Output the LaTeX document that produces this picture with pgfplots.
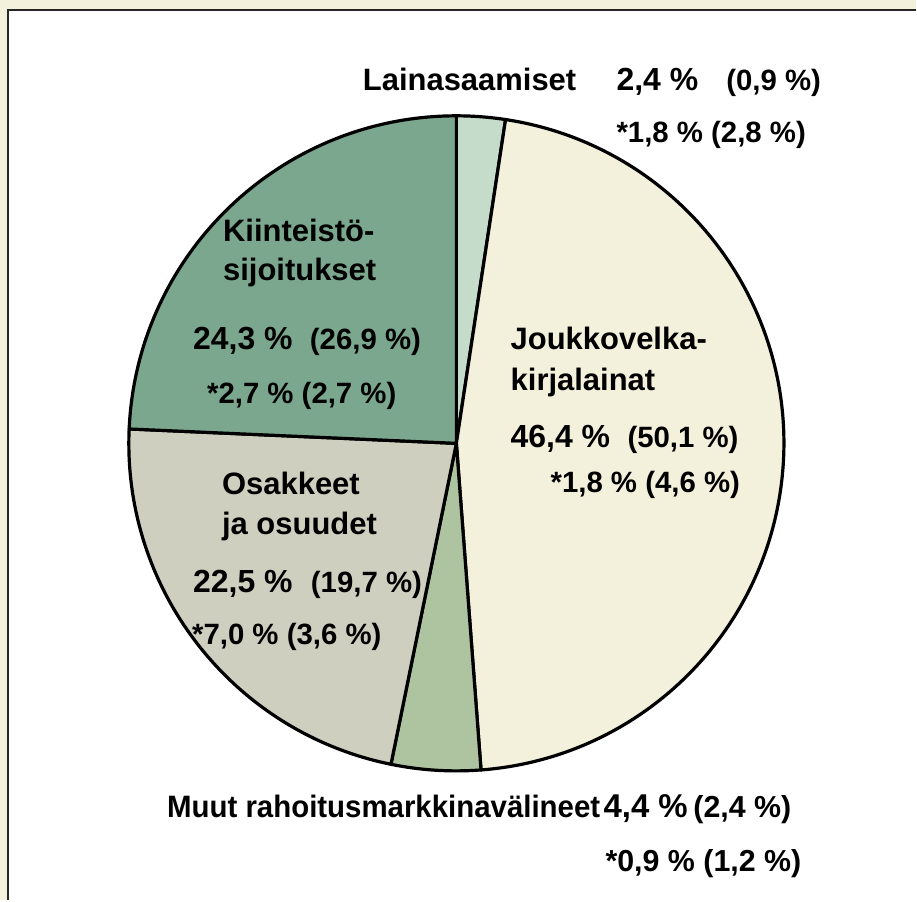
\documentclass[border=0pt]{standalone}
\usepackage{pgfplots}
\pgfplotsset{compat=1.18}
\usepackage{pgfplotstable}
\usepackage{fontspec}
\setmainfont{Liberation Sans}
\usepackage{graphicx}

\definecolor{bgcream}{HTML}{F3F1DC}
\definecolor{cLaina}{HTML}{C5DCCB}
\definecolor{cJouk}{HTML}{F3F0DC}
\definecolor{cMuut}{HTML}{AEC3A0}
\definecolor{cOsak}{HTML}{CFCFC0}
\definecolor{cKiin}{HTML}{7AA78E}

\pgfplotstableread{
idx value
0 2.4
1 46.4
2 4.4
3 22.5
4 24.3
}\piedata

\begin{document}
\begin{tikzpicture}
\pgfplotstablegetelem{0}{value}\of\piedata\let\vA\pgfplotsretval
\pgfplotstablegetelem{1}{value}\of\piedata\let\vB\pgfplotsretval
\pgfplotstablegetelem{2}{value}\of\piedata\let\vC\pgfplotsretval
\pgfplotstablegetelem{3}{value}\of\piedata\let\vD\pgfplotsretval
\pgfplotstablegetelem{4}{value}\of\piedata\let\vE\pgfplotsretval
\pgfmathsetmacro\aA{90}
\pgfmathsetmacro\aB{\aA-3.6*\vA}
\pgfmathsetmacro\aC{\aB-3.6*\vB}
\pgfmathsetmacro\aD{\aC-3.6*\vC}
\pgfmathsetmacro\aE{\aD-3.6*\vD}
\pgfmathsetmacro\aF{\aE-3.6*\vE}
\begin{axis}[x=0.5pt,y=0.5pt,xmin=0,xmax=917,ymin=0,ymax=901,hide axis,clip=false,
  anchor=origin, at={(0,0)}]
\fill[bgcream] (axis cs:0,0) rectangle (axis cs:917,901);
\fill[white] (axis cs:7,0) rectangle (axis cs:917,892);
\draw[line width=1.3pt, black!85] (axis cs:8,0) -- (axis cs:8,891) -- (axis cs:917,891);
\tikzset{wedge/.style={draw=black, line width=1.6pt, line join=round}}
\filldraw[wedge, fill=cLaina] (axis cs:457,457) -- ++(\aA:164pt) arc[start angle=\aA, end angle=\aB, radius=164pt] -- cycle;
\filldraw[wedge, fill=cJouk] (axis cs:457,457) -- ++(\aB:164pt) arc[start angle=\aB, end angle=\aC, radius=164pt] -- cycle;
\filldraw[wedge, fill=cMuut] (axis cs:457,457) -- ++(\aC:164pt) arc[start angle=\aC, end angle=\aD, radius=164pt] -- cycle;
\filldraw[wedge, fill=cOsak] (axis cs:457,457) -- ++(\aD:164pt) arc[start angle=\aD, end angle=\aE, radius=164pt] -- cycle;
\filldraw[wedge, fill=cKiin] (axis cs:457,457) -- ++(\aE:164pt) arc[start angle=\aE, end angle=\aF, radius=164pt] -- cycle;
\tikzset{
  lab/.style={anchor=base west, inner sep=0pt, font=\fontsize{15.5}{18}\selectfont\bfseries},
  big/.style={anchor=base west, inner sep=0pt, font=\fontsize{16}{19}\selectfont\bfseries},
  sm/.style={anchor=base west, inner sep=0pt, font=\fontsize{14.7}{18}\selectfont\bfseries}}
% Lainasaamiset
\node[lab] at (axis cs:363,810) {Lainasaamiset};
\node[big] at (axis cs:617,810) {2,4 \%};
\node[sm]  at (axis cs:727,810) {(0,9 \%)};
\node[sm]  at (axis cs:617,758) {*1,8 \% (2,8 \%)};
% Kiinteisto
\node[lab] at (axis cs:223,659) {Kiinteistö-};
\node[lab] at (axis cs:223,620) {sijoitukset};
\node[big] at (axis cs:193,551) {24,3 \%};
\node[sm]  at (axis cs:310,551) {(26,9 \%)};
\node[sm]  at (axis cs:207,497) {*2,7 \% (2,7 \%)};
% Joukkovelkakirjalainat
\node[lab] at (axis cs:511,551) {Joukkovelka-};
\node[lab] at (axis cs:511,510) {kirjalainat};
\node[big] at (axis cs:511,453) {46,4 \%};
\node[sm]  at (axis cs:628,453) {(50,1 \%)};
\node[sm]  at (axis cs:551,408) {*1,8 \% (4,6 \%)};
% Osakkeet
\node[lab] at (axis cs:222,406) {Osakkeet};
\node[lab] at (axis cs:222,366) {ja osuudet};
\node[big] at (axis cs:193,308) {22,5 \%};
\node[sm]  at (axis cs:311,308) {(19,7 \%)};
\node[sm]  at (axis cs:192,256) {*7,0 \% (3,6 \%)};
% Muut
\node[lab] at (axis cs:167,82) {\scalebox{0.95}[1]{Muut rahoitusmarkkinavälineet}};
\node[big] at (axis cs:604,82) {\fontsize{16.5}{19}\selectfont 4,4 \%};
\node[sm]  at (axis cs:694,82) {\fontsize{15.2}{18}\selectfont(2,4 \%)};
\node[sm]  at (axis cs:606,28) {\fontsize{15.2}{18}\selectfont*0,9 \% (1,2 \%)};
\end{axis}
\end{tikzpicture}
\end{document}
